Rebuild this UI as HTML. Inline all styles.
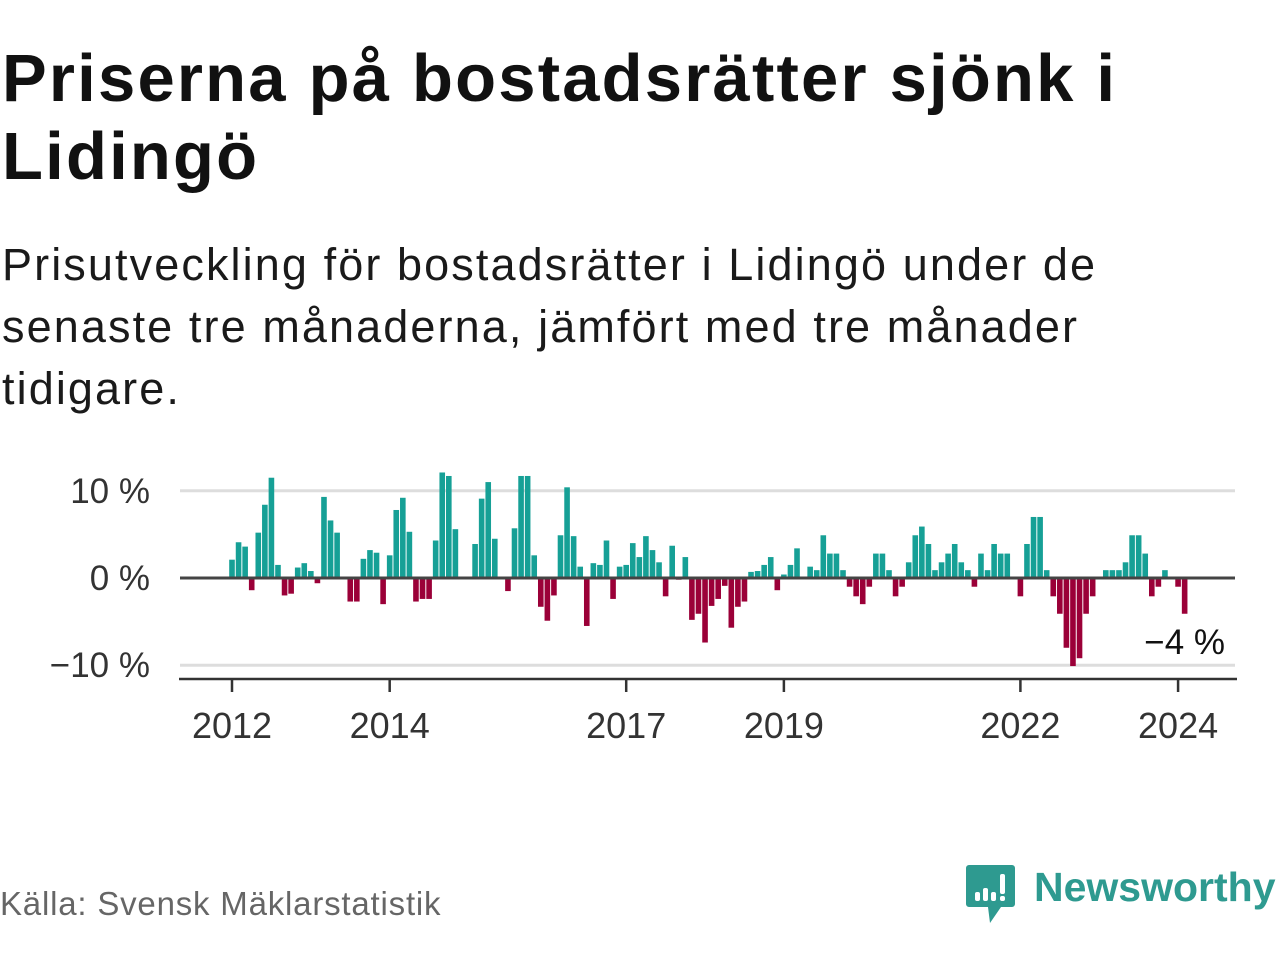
<!DOCTYPE html>
<html><head><meta charset="utf-8">
<style>
body{margin:0;width:1280px;height:960px;background:#fff;font-family:"Liberation Sans",sans-serif;position:relative;overflow:hidden}
#title{position:absolute;left:2px;top:40px;font-size:67px;font-weight:bold;color:#111;line-height:78px;margin:0;letter-spacing:2.2px}
#sub{position:absolute;left:2px;top:234px;font-size:45px;color:#1a1a1a;line-height:62px;margin:0;width:1250px;letter-spacing:2.1px}
#src{position:absolute;left:0;top:885px;font-size:33px;color:#666;letter-spacing:0.8px}
#logo{position:absolute;left:965px;top:862px}
#logotext{position:absolute;left:1034px;top:864px;font-size:41px;font-weight:bold;color:#2e9a90}
svg text{font-family:"Liberation Sans",sans-serif}
</style></head><body>
<h1 id="title">Priserna på bostadsrätter sjönk i<br>Lidingö</h1>
<p id="sub">Prisutveckling för bostadsrätter i Lidingö under de<br>senaste tre månaderna, jämfört med tre månader<br>tidigare.</p>
<svg id="chart" width="1280" height="780" style="position:absolute;left:0;top:0"></svg>
<div id="src">Källa: Svensk Mäklarstatistik</div>
<svg id="logo" width="52" height="64" viewBox="0 0 52 64">
<path d="M4 3h43a3 3 0 0 1 3 3v36a3 3 0 0 1-3 3H36l-11 16-2-16H4a3 3 0 0 1-3-3V6a3 3 0 0 1 3-3z" fill="#2e9a90"/>
<rect x="10" y="30" width="5" height="9" rx="2" fill="#fff"/><rect x="18" y="26" width="5" height="13" rx="2" fill="#fff"/><rect x="26" y="30" width="5" height="9" rx="2" fill="#fff"/><rect x="35" y="12" width="5" height="20" rx="2" fill="#fff"/><rect x="35" y="34" width="5" height="5" rx="2" fill="#fff"/>
</svg>
<div id="logotext">Newsworthy</div>
<script>
const monthIndex=[0,1,2,3,4,5,6,7,8,9,10,11,12,13,14,15,16,18,19,20,21,22,23,24,25,26,27,28,29,30,31,32,33,34,37,38,39,40,42,43,44,45,46,47,48,49,50,51,52,53,54,55,56,57,58,59,60,61,62,63,64,65,66,67,68,69,70,71,72,73,74,75,76,77,78,79,80,81,82,83,84,85,86,88,89,90,91,92,93,94,95,96,97,98,99,100,101,102,103,104,105,106,107,108,109,110,111,112,113,114,115,116,117,118,120,121,122,123,124,125,126,127,128,129,130,131,133,134,135,136,137,138,139,140,141,142,144,145];
const changePct=[2.1,4.1,3.6,-1.4,5.2,8.4,11.5,1.5,-2.0,-1.8,1.2,1.7,0.8,-0.6,9.3,6.6,5.2,-2.7,-2.7,2.2,3.2,2.9,-3.0,2.6,7.8,9.2,5.3,-2.7,-2.4,-2.4,4.3,12.1,11.7,5.6,3.9,9.1,11.0,4.5,-1.5,5.7,11.7,11.7,2.6,-3.3,-4.9,-2.0,4.9,10.4,4.8,1.3,-5.5,1.7,1.5,4.3,-2.4,1.3,1.5,4.0,2.4,4.8,3.2,1.8,-2.1,3.7,-0.2,2.4,-4.8,-4.1,-7.4,-3.2,-2.4,-0.9,-5.7,-3.3,-2.7,0.7,0.8,1.5,2.4,-1.4,0.4,1.5,3.4,1.3,0.9,4.9,2.8,2.8,0.9,-1.0,-2.1,-3.0,-1.0,2.8,2.8,0.9,-2.1,-1.0,1.8,4.9,5.9,3.9,0.9,1.8,2.8,3.9,1.8,0.9,-1.0,2.8,0.9,3.9,2.8,2.8,-2.1,3.9,7.0,7.0,0.9,-2.1,-4.1,-8.0,-10.1,-9.2,-4.1,-2.1,0.9,0.9,0.9,1.8,4.9,4.9,2.8,-2.1,-1.0,0.9,-1.0,-4.1];
const yTicks=[10,0,-10];
const yTickLabels=["10 %","0 %","\u221210 %"];
const xTickMonths=[0,24,60,84,120,144];
const xTickLabels=["2012","2014","2017","2019","2022","2024"];
const lastLabel="\u22124 %";

const NS="http://www.w3.org/2000/svg";
const svg=document.getElementById('chart');
const X0=232, MW=6.57;
const xs=m=>X0+m*MW;
const ys=v=>578-v*8.72;
function mk(tag,attrs){const e=document.createElementNS(NS,tag);for(const k in attrs)e.setAttribute(k,attrs[k]);svg.appendChild(e);return e;}
yTicks.forEach((t,i)=>{
  if(t!==0){const g=mk('line',{x1:180,x2:1235,y1:ys(t),y2:ys(t),stroke:'#ddd','stroke-width':3});
  
  }
  const l=mk('text',{x:150,y:ys(t)+12,'text-anchor':'end','font-size':35,fill:'#333'});
  l.textContent=yTickLabels[i];
  
  
});
monthIndex.forEach((m,i)=>{
  const v=changePct[i];
  const y=v>=0?ys(v):ys(0);
  const h=Math.abs(ys(v)-ys(0));
  const b=mk('rect',{x:xs(m)-2.8,y:y,width:5.6,height:h,fill:v>=0?'#16a096':'#9b0038'});
  
  
});
const z=mk('line',{x1:180,x2:1235,y1:ys(0),y2:ys(0),stroke:'#444','stroke-width':3});


const ax=mk('line',{x1:179,x2:1237,y1:679,y2:679,stroke:'#333','stroke-width':2.5});


xTickMonths.forEach((m,i)=>{
  const t=mk('line',{x1:xs(m),x2:xs(m),y1:679,y2:692,stroke:'#333','stroke-width':2.5});
  
  
  const l=mk('text',{x:xs(m),y:738,'text-anchor':'middle','font-size':36,fill:'#333'});
  l.textContent=xTickLabels[i];
  
  
});
const ll=mk('text',{x:1225,y:654,'text-anchor':'end','font-size':35,fill:'#111'});
ll.textContent=lastLabel;


</script>
</body></html>
